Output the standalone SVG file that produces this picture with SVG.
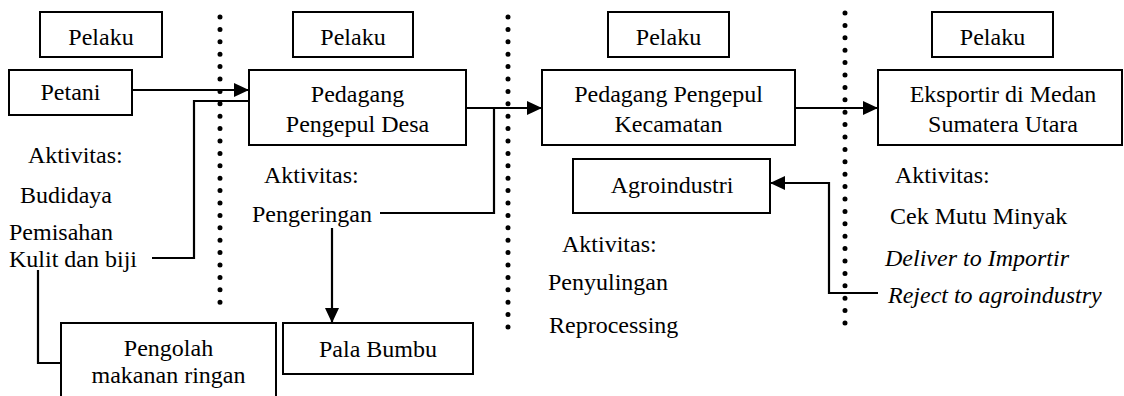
<svg xmlns="http://www.w3.org/2000/svg" width="1124" height="396" viewBox="0 0 1124 396">
<style>
.box{fill:#fff;stroke:#000;stroke-width:2}
.t{font-family:'Liberation Serif','Times New Roman',serif;font-size:24px;fill:#000}
.c{text-anchor:middle}
.i{font-style:italic}
.ln{fill:none;stroke:#000;stroke-width:2.2}
.dot{fill:none;stroke:#000;stroke-width:5;stroke-linecap:round;stroke-dasharray:0 12.4}
</style>
<defs>
<marker id="ah" viewBox="0 0 15 14" refX="15" refY="7" markerWidth="15" markerHeight="14" markerUnits="userSpaceOnUse" orient="auto">
<path d="M0,0 L15,7 L0,14 z" fill="#000"/>
</marker>
</defs>
<rect width="1124" height="396" fill="#fff"/>
<g id="separators">
<line class="dot" x1="220" y1="17" x2="220" y2="313"/>
<line class="dot" x1="508" y1="17" x2="508" y2="337"/>
<line class="dot" x1="845" y1="13" x2="845" y2="332"/>
</g>
<g id="connectors">
<path class="ln" d="M126,90 H249" marker-end="url(#ah)"/>
<path class="ln" d="M152,258 H194 V101 H263" marker-end="url(#ah)"/>
<path class="ln" d="M466,108 H542" marker-end="url(#ah)"/>
<path class="ln" d="M380,213 H494 V108"/>
<path class="ln" d="M332,228 V323" marker-end="url(#ah)"/>
<path class="ln" d="M795,108 H878" marker-end="url(#ah)"/>
<path class="ln" d="M878,293 H829 V183 H770" marker-end="url(#ah)"/>
<path class="ln" d="M38,270 V363 H61"/>
</g>
<g id="pelaku1"><rect class="box" x="40" y="12" width="122" height="45"/><text class="t c" x="101" y="45">Pelaku</text></g>
<g id="pelaku2"><rect class="box" x="293" y="12" width="120" height="45"/><text class="t c" x="353" y="45">Pelaku</text></g>
<g id="pelaku3"><rect class="box" x="608" y="12" width="121" height="45"/><text class="t c" x="668.5" y="45">Pelaku</text></g>
<g id="pelaku4"><rect class="box" x="932" y="12" width="121" height="45"/><text class="t c" x="992.5" y="45">Pelaku</text></g>
<g id="petani"><rect class="box" x="9" y="70" width="123" height="45"/><text class="t c" x="70.5" y="100">Petani</text></g>
<g id="pedagang-desa"><rect class="box" x="249" y="70" width="217" height="75"/><text class="t c" x="357.5" y="102">Pedagang</text><text class="t c" x="357.5" y="132">Pengepul Desa</text></g>
<g id="pedagang-kecamatan"><rect class="box" x="542" y="70" width="253" height="75"/><text class="t c" x="668.5" y="102">Pedagang Pengepul</text><text class="t c" x="668.5" y="132">Kecamatan</text></g>
<g id="eksportir"><rect class="box" x="878" y="70" width="244" height="75"/><text class="t c" x="1003" y="102">Eksportir di Medan</text><text class="t c" x="1003" y="132">Sumatera Utara</text></g>
<g id="agroindustri"><rect class="box" x="573" y="159" width="197" height="54"/><text class="t c" x="672" y="193">Agroindustri</text></g>
<g id="pala-bumbu"><rect class="box" x="283" y="323" width="190" height="51"/><text class="t c" x="378" y="357">Pala Bumbu</text></g>
<g id="pengolah"><rect class="box" x="61" y="323" width="215" height="80"/><text class="t c" x="168.5" y="356">Pengolah</text><text class="t c" x="168.5" y="383">makanan ringan</text></g>
<g id="aktivitas-petani">
<text class="t" x="28" y="163">Aktivitas:</text>
<text class="t" x="20" y="203">Budidaya</text>
<text class="t" x="9" y="240">Pemisahan</text>
<text class="t" x="9" y="267">Kulit dan biji</text>
</g>
<g id="aktivitas-desa">
<text class="t" x="264" y="183">Aktivitas:</text>
<text class="t" x="252" y="222">Pengeringan</text>
</g>
<g id="aktivitas-agro">
<text class="t" x="562" y="252">Aktivitas:</text>
<text class="t" x="548" y="290">Penyulingan</text>
<text class="t" x="549" y="333">Reprocessing</text>
</g>
<g id="aktivitas-eksportir">
<text class="t" x="895" y="183">Aktivitas:</text>
<text class="t" x="890" y="224">Cek Mutu Minyak</text>
<text class="t i" x="885" y="266">Deliver to Importir</text>
<text class="t i" x="888" y="303">Reject to agroindustry</text>
</g>
</svg>
